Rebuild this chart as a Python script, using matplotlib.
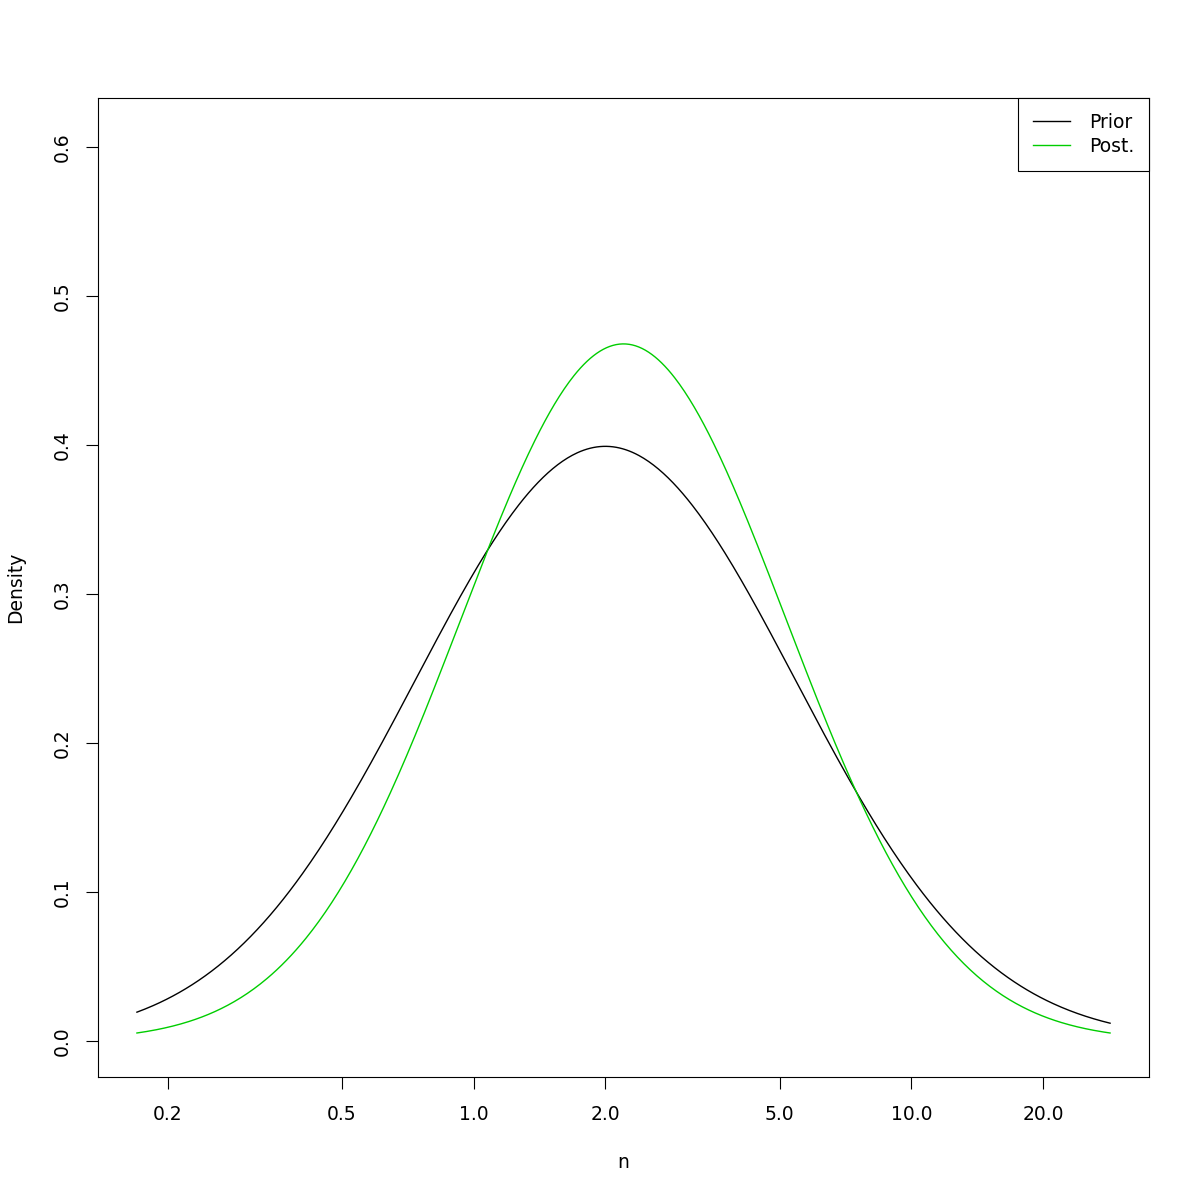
import numpy as np
import matplotlib
matplotlib.use("Agg")
import matplotlib.pyplot as plt

# Distribution parameters (normal on log(n) scale)
prior_meanlog = np.log(2.0)
prior_sdlog = 1.0
post_meanlog = np.log(2.2)
post_sdlog = 0.853

series_labels = ["Prior", "Post."]
series_colors = ["black", "#00CD00"]

x_ticks = [0.2, 0.5, 1.0, 2.0, 5.0, 10.0, 20.0]
x_tick_labels = ["0.2", "0.5", "1.0", "2.0", "5.0", "10.0", "20.0"]
y_ticks = [0.0, 0.1, 0.2, 0.3, 0.4, 0.5, 0.6]
y_tick_labels = ["0.0", "0.1", "0.2", "0.3", "0.4", "0.5", "0.6"]
y_max = 0.6084

def dens(lx, m, s):
    return np.exp(-0.5 * ((lx - m) / s) ** 2) / (s * np.sqrt(2 * np.pi))

lo = post_meanlog - 3 * post_sdlog
hi = post_meanlog + 3 * post_sdlog
lx = np.linspace(lo, hi, 600)
n = np.exp(lx)
prior = dens(lx, prior_meanlog, prior_sdlog)
post = dens(lx, post_meanlog, post_sdlog)

FS = 13.5
plt.rcParams['font.family'] = ['DejaVu Sans']
fig = plt.figure(figsize=(12, 12), dpi=100)
ax = fig.add_axes([98/1200, 123/1200, 1051/1200, 979/1200])
ax.plot(n, prior, color=series_colors[0], lw=1.0, label=series_labels[0])
ax.plot(n, post, color=series_colors[1], lw=1.0, label=series_labels[1])
ax.set_xscale('log')
span = hi - lo
ax.set_xlim(np.exp(lo - 0.04 * span), np.exp(hi + 0.04 * span))
ax.set_ylim(-0.04 * y_max, 1.04 * y_max)
ax.set_xticks(x_ticks)
ax.set_xticklabels(x_tick_labels)
ax.minorticks_off()
ax.set_yticks(y_ticks)
ax.set_yticklabels(y_tick_labels, rotation=90, va='center')
ax.tick_params(axis='both', length=8.6, width=0.8, labelsize=FS, direction='out')
ax.tick_params(axis='x', pad=11.5)
ax.tick_params(axis='y', pad=10.5)
for sp in ax.spines.values():
    sp.set_linewidth(0.8)
ax.set_xlabel("n", fontsize=FS, labelpad=21)
ax.set_ylabel("Density", fontsize=FS, labelpad=20)

leg = ax.legend(loc='upper right', borderaxespad=0, fancybox=False, framealpha=1,
                edgecolor='black', fontsize=FS, handlelength=2.0, handletextpad=1.0,
                borderpad=0.8, labelspacing=0.25)
leg.get_frame().set_linewidth(0.8)

fig.savefig("out.png", dpi=100)
